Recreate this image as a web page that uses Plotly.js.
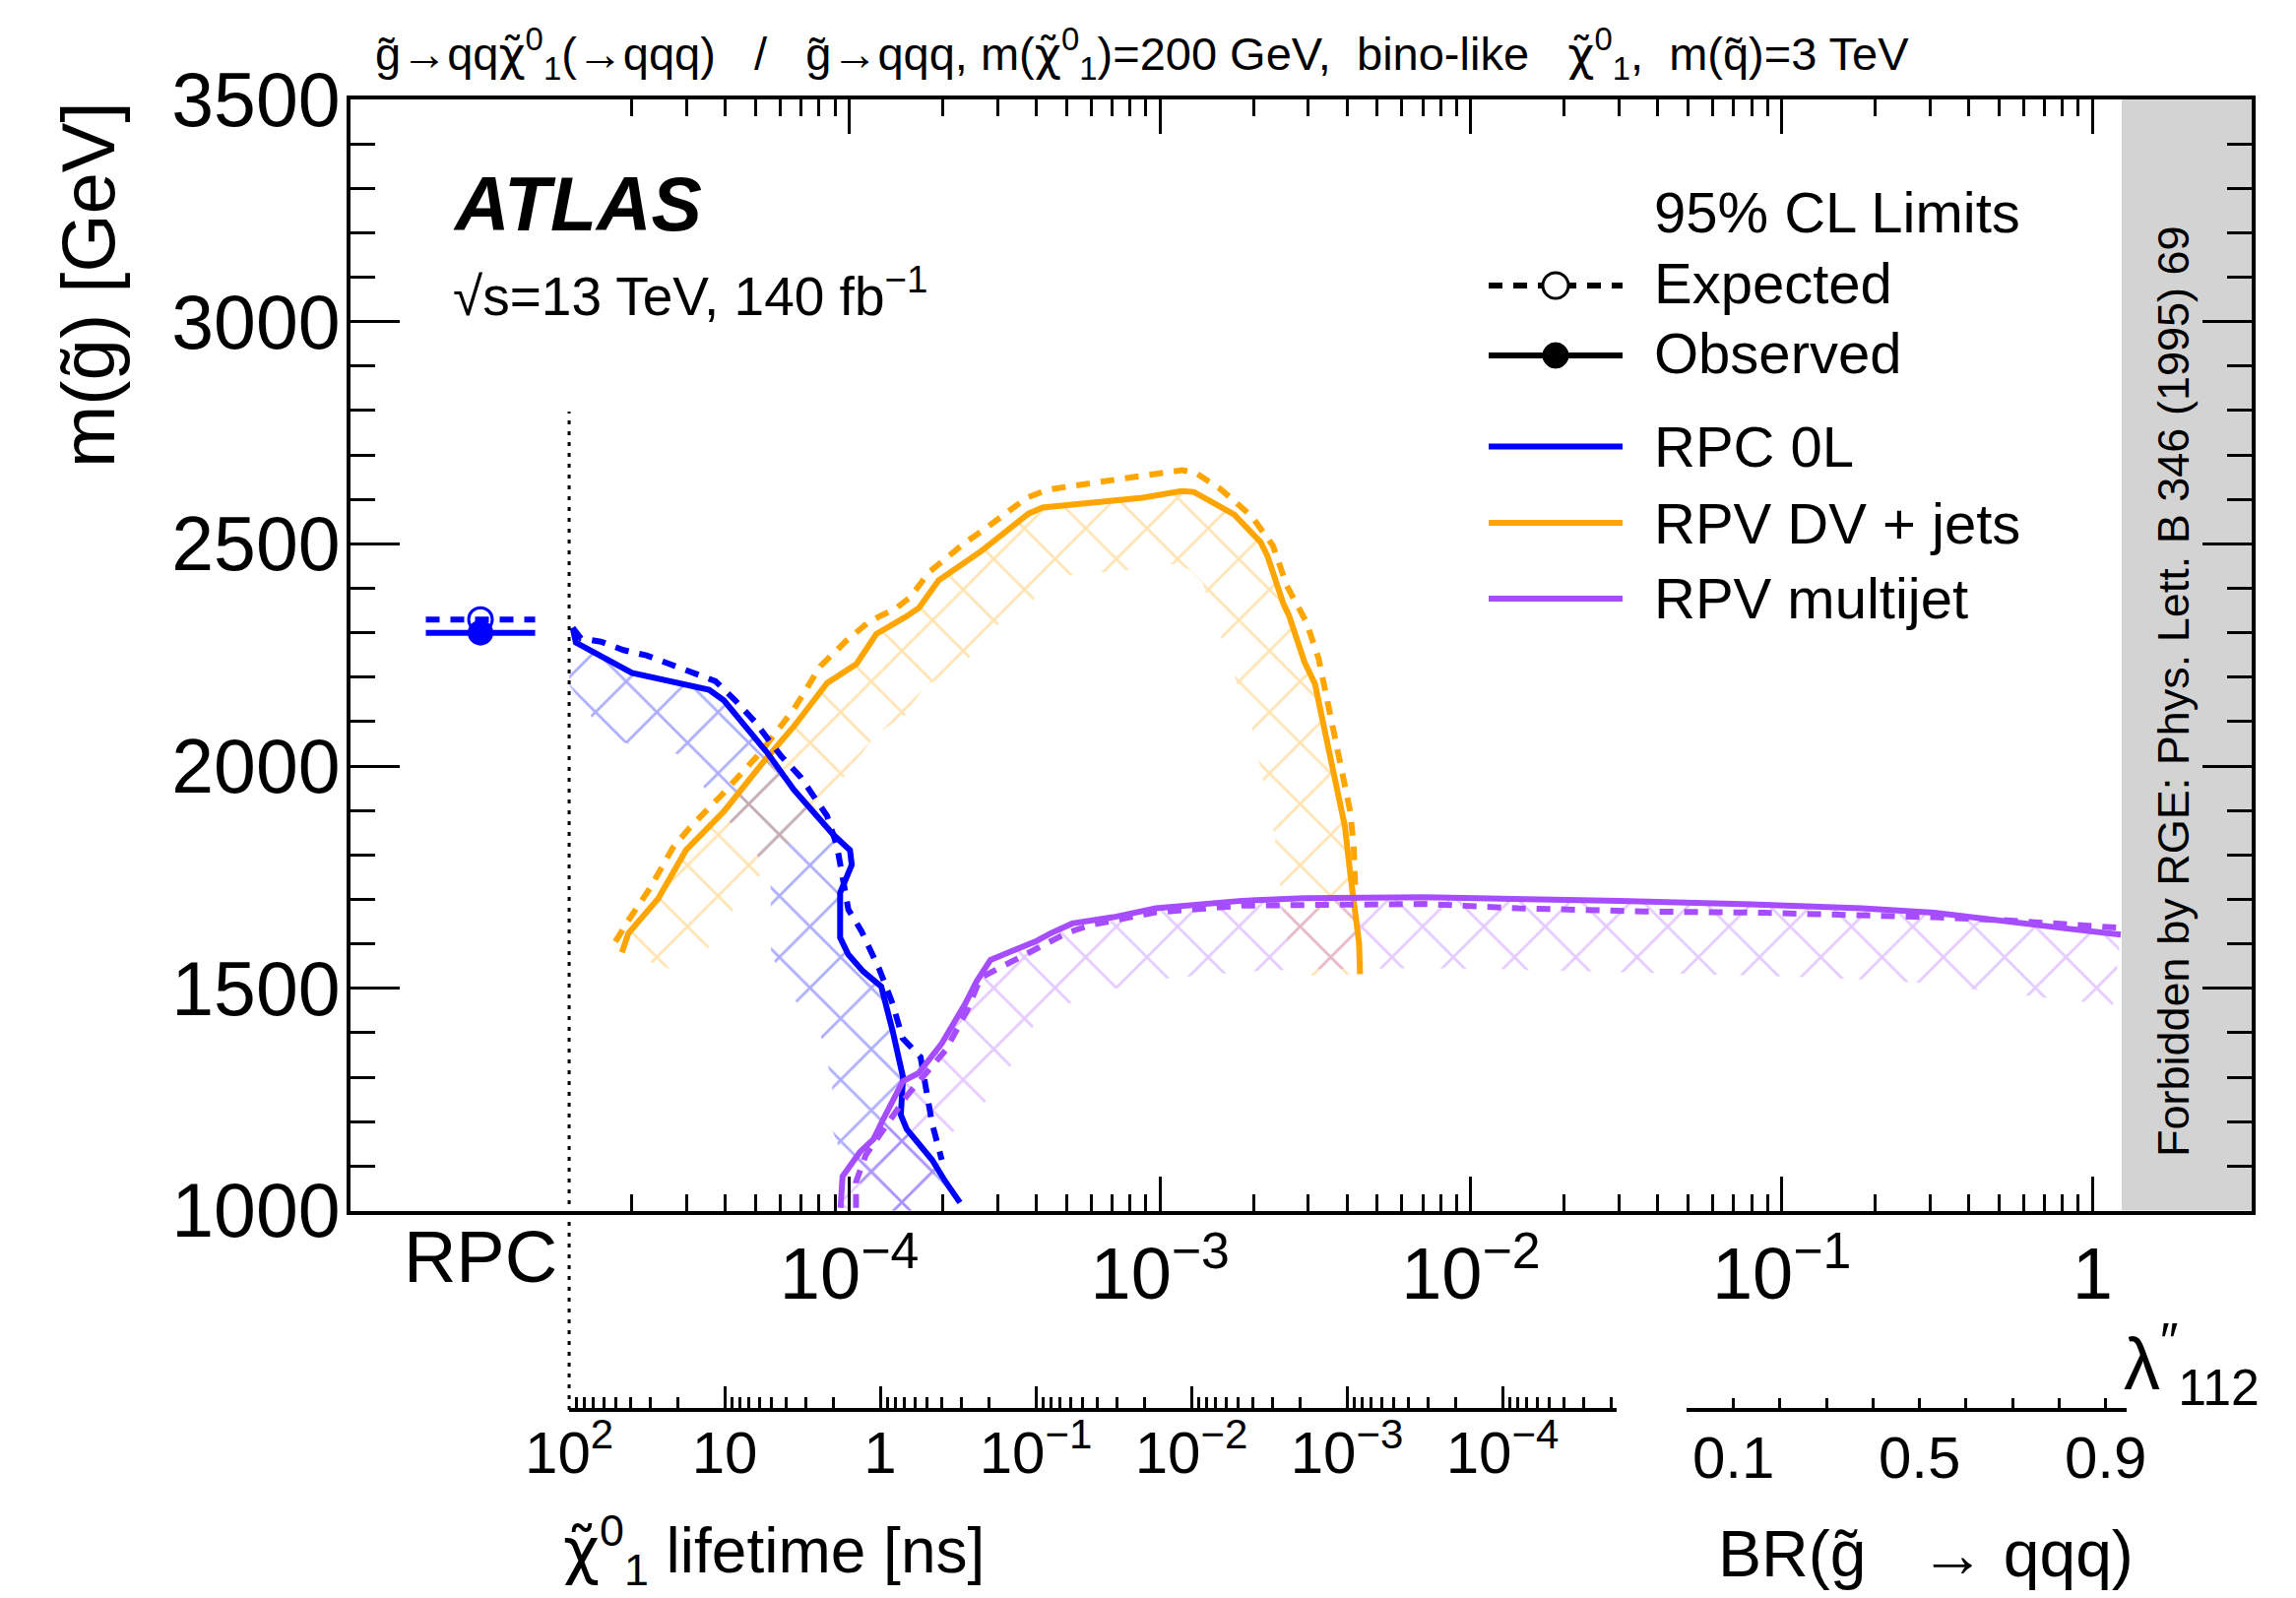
<!DOCTYPE html>
<html><head><meta charset="utf-8">
<script src="https://cdn.plot.ly/plotly-3.0.1.min.js"></script>
<style>body{margin:0;background:#fff}</style>
</head><body><div id="chart" style="width:2332px;height:1623px"></div>
<script>
// ---------------- data ----------------
// RPC 0L (prompt) limit, in GeV
const rpcMassObs = 2300;
const rpcMassExp = 2330;
const rpcBin = [-0.5, 0, 0.5];          // RPC category bin (centre = 0)
const rpcCategory = ['RPC'];

// RPC 0L reinterpretation vs lambda''112
const rpcObsLam = [1.29e-5,1.32e-5,2.00e-5,3.54e-5,3.95e-5,5.48e-5,6.65e-5,8.91e-5,1.006e-4,1.019e-4,9.35e-5,9.35e-5,9.94e-5,1.109e-4,1.268e-4,1.315e-4,1.38e-4,1.49e-4,1.466e-4,1.532e-4,1.848e-4,2.036e-4,2.272e-4];
const rpcObsMass = [2311,2278,2210,2172,2148,2028,1946,1845,1811,1778,1715,1614,1576,1538,1504,1465,1404,1300,1215,1183,1114,1066,1018];
const rpcExpLam = [1.29e-5,1.372e-5,1.589e-5,1.880e-5,2.228e-5,2.706e-5,3.210e-5,3.714e-5,4.297e-5,4.972e-5,5.48e-5,6.035e-5,6.985e-5,8.486e-5,9.13e-5,9.47e-5,9.94e-5,1.095e-4,1.252e-4,1.380e-4,1.485e-4,1.697e-4,1.760e-4,1.848e-4,1.985e-4];
const rpcExpMass = [2311,2287,2280,2261,2249,2227,2208,2191,2148,2100,2061,2023,1975,1888,1821,1754,1677,1629,1542,1465,1388,1345,1283,1196,1114];

// RPV DV + jets
const dvObsLam = [1.857e-5,1.949e-5,2.425e-5,2.984e-5,3.95e-5,5.35e-5,6.65e-5,8.49e-5,1.056e-4,1.222e-4,1.521e-4,1.676e-4,1.939e-4,2.661e-4,3.775e-4,4.19e-4,8.80e-4,1.172e-3,1.284e-3,1.389e-3,1.733e-3,2.107e-3,2.219e-3,2.496e-3,2.596e-3,2.917e-3,3.155e-3,3.411e-3,3.685e-3,3.786e-3,3.935e-3,4.093e-3,4.202e-3,4.37e-3,4.40e-3];
const dvObsMass = [1581,1624,1701,1811,1898,2013,2090,2187,2230,2297,2336,2356,2418,2484,2568,2582,2604,2619,2617,2603,2566,2504,2472,2365,2340,2234,2184,2070,1963,1922,1864,1758,1684,1602,1532];
const dvExpLam = [1.769e-5,1.949e-5,2.284e-5,2.706e-5,3.057e-5,3.898e-5,5.219e-5,6.65e-5,8.08e-5,9.82e-5,1.164e-4,1.414e-4,1.578e-4,1.798e-4,2.332e-4,2.726e-4,3.729e-4,4.357e-4,5.653e-4,8.568e-4,1.177e-3,1.301e-3,1.561e-3,1.973e-3,2.308e-3,2.558e-3,2.956e-3,3.238e-3,3.411e-3,3.594e-3,3.886e-3,4.093e-3,4.202e-3,4.257e-3];
const dvExpMass = [1605,1653,1725,1816,1860,1936,2033,2129,2225,2283,2326,2355,2381,2435,2500,2533,2604,2622,2634,2654,2666,2660,2624,2562,2496,2406,2324,2242,2168,2086,1979,1897,1815,1709];

// RPV multijet
const mjObsLam = [9.38e-5,9.52e-5,1.083e-4,1.198e-4,1.288e-4,1.488e-4,1.670e-4,1.985e-4,2.361e-4,2.572e-4,2.848e-4,3.966e-4,4.451e-4,5.218e-4,7.063e-4,9.69e-4,1.830e-3,2.895e-3,7.094e-3,1.235e-2,3.023e-2,8.86e-2,0.1811,0.3102,0.5309,0.8159,1.233];
const mjObsMass = [1006,1077,1132,1161,1206,1291,1309,1376,1465,1516,1564,1605,1624,1646,1660,1680,1697,1703,1705,1703,1697,1688,1680,1670,1649,1635,1621];
const mjExpLam = [1.052e-4,1.052e-4,1.131e-4,1.252e-4,1.532e-4,2.044e-4,2.395e-4,2.648e-4,2.890e-4,3.966e-4,4.994e-4,5.94e-4,9.69e-4,1.830e-3,7.094e-3,1.424e-2,3.613e-2,8.86e-2,0.1811,0.3102,0.5309,0.941,1.233];
const mjExpMass = [1006,1065,1125,1169,1258,1361,1450,1524,1538,1587,1624,1642,1671,1686,1690,1680,1673,1670,1666,1660,1653,1642,1636];

// boundaries
const lamRpcEdge = 1.256e-5;     // start of the lambda'' scale (dotted line)
const lamRgeLimit = 1.242;       // RGE forbidden region starts

// axis tick labels
const lamMajorVals = [1e-4,1e-3,1e-2,1e-1,1];
const lamMajorText = ['10<sup>\u22124</sup>','10<sup>\u22123</sup>','10<sup>\u22122</sup>','10<sup>\u22121</sup>','1'];
const tauMajorVals = [100,10,1,0.1,0.01,1e-3,1e-4];
const tauMajorText = ['10<sup>2</sup>','10','1','10<sup>\u22121</sup>','10<sup>\u22122</sup>','10<sup>\u22123</sup>','10<sup>\u22124</sup>'];
const brLabelVals = [0.1,0.5,0.9];
const brLabelText = ['0.1','0.5','0.9'];
const brOtherTicks = [0.2,0.3,0.4,0.6,0.7,0.8];

// legend
const legendHeader = '95% CL Limits';
const legendStyles = ['Expected','Observed'];
const legendAnalyses = ['RPC 0L','RPV DV + jets','RPV multijet'];

// ---------------- styling / geometry ----------------
const FONT = 'Liberation Sans, Arial, Helvetica, sans-serif';
const C_BLUE = '#0000ff', C_ORANGE = '#ffa500', C_PURPLE = '#a64dff';
const FIG_W = 2332, FIG_H = 1623;
const M = {l:356, r:45, t:101, b:191};
const PW = FIG_W - M.l - M.r, PH = FIG_H - M.t - M.b;
const LAM_RANGE = [-5.6044, 0.5122];
const Y_DOMAIN = [0.15214, 1];
const M_RANGE = [1000, 3500];
const yBotPx = M.t + PH*(1-Y_DOMAIN[0]), yTopPx = M.t + PH*(1-Y_DOMAIN[1]);

const xToPx = l => M.l + (Math.log10(l)-LAM_RANGE[0])/(LAM_RANGE[1]-LAM_RANGE[0])*PW;
const pxToX = p => Math.pow(10, LAM_RANGE[0] + (p-M.l)/PW*(LAM_RANGE[1]-LAM_RANGE[0]));
const yToPx = m => yBotPx - (m-M_RANGE[0])/(M_RANGE[1]-M_RANGE[0])*(yBotPx-yTopPx);
const pxToY = p => M_RANGE[0] + (yBotPx-p)/(yBotPx-yTopPx)*(M_RANGE[1]-M_RANGE[0]);
const paperX = p => (p-M.l)/PW;
const paperY = p => (M.t+PH-p)/PH;

const edgePx = xToPx(lamRpcEdge), rgePx = xToPx(lamRgeLimit);

// hatched band on the excluded side of a contour
function band(lam, mass, w){
  const P = lam.map((l,i)=>[xToPx(l), yToPx(mass[i])]);
  const n = P.length, segN = [];
  for(let i=0;i<n-1;i++){
    const dx=P[i+1][0]-P[i][0], dy=P[i+1][1]-P[i][1], L=Math.hypot(dx,dy)||1;
    segN.push([-dy/L, dx/L]);
  }
  const off = P.map((p,i)=>{
    const a=segN[Math.max(0,i-1)], b=segN[Math.min(n-2,i)];
    let nx=a[0]+b[0], ny=a[1]+b[1]; const L=Math.hypot(nx,ny)||1; nx/=L; ny/=L;
    return [Math.min(rgePx, Math.max(edgePx, p[0]+nx*w)), p[1]+ny*w];
  });
  const poly = P.concat(off.slice().reverse()); poly.push(P[0]);
  return {x: poly.map(p=>pxToX(p[0])), y: poly.map(p=>pxToY(p[1]))};
}
function hatchTrace(lam, mass, color, op){
  const b = band(lam, mass, 72);
  return {type:'scatter', mode:'lines', x:b.x, y:b.y, fill:'toself', fillcolor:'rgba(0,0,0,0)',
    fillpattern:{shape:'x', size:44, solidity:0.12, fgcolor:color, fgopacity:op, bgcolor:'rgba(0,0,0,0)'},
    line:{width:0}, hoverinfo:'skip', showlegend:false};
}
function curve(lam, mass, color, dashed){
  return {type:'scatter', mode:'lines', x:lam, y:mass, line:{color:color, width:6, dash: dashed ? '14px,11px' : 'solid'},
    hoverinfo:'skip', showlegend:false};
}

const traces = [
  hatchTrace(rpcObsLam, rpcObsMass, C_BLUE, 0.32),
  hatchTrace(dvObsLam, dvObsMass, C_ORANGE, 0.3),
  hatchTrace(mjObsLam, mjObsMass, C_PURPLE, 0.3),
  curve(dvExpLam, dvExpMass, C_ORANGE, true),
  curve(dvObsLam, dvObsMass, C_ORANGE, false),
  curve(rpcExpLam, rpcExpMass, C_BLUE, true),
  curve(rpcObsLam, rpcObsMass, C_BLUE, false),
  curve(mjExpLam, mjExpMass, C_PURPLE, true),
  curve(mjObsLam, mjObsMass, C_PURPLE, false),
  // RPC prompt points
  {type:'scatter', mode:'lines', xaxis:'x2', yaxis:'y', x:[rpcBin[0], rpcBin[2]], y:[rpcMassExp, rpcMassExp],
    line:{color:C_BLUE, width:6, dash:'14px,11px'}, hoverinfo:'skip', showlegend:false},
  {type:'scatter', mode:'markers', xaxis:'x2', yaxis:'y', x:[rpcBin[1]], y:[rpcMassExp],
    marker:{symbol:'circle-open', size:24, color:C_BLUE, line:{width:3, color:C_BLUE}}, hoverinfo:'skip', showlegend:false},
  {type:'scatter', mode:'lines', xaxis:'x2', yaxis:'y', x:[rpcBin[0], rpcBin[2]], y:[rpcMassObs, rpcMassObs],
    line:{color:C_BLUE, width:6}, hoverinfo:'skip', showlegend:false},
  {type:'scatter', mode:'markers', xaxis:'x2', yaxis:'y', x:[rpcBin[1]], y:[rpcMassObs],
    marker:{symbol:'circle', size:26, color:C_BLUE}, hoverinfo:'skip', showlegend:false},
  // carriers for the secondary scales
  {type:'scatter', x:[], y:[], xaxis:'x3', yaxis:'y', hoverinfo:'skip', showlegend:false},
  {type:'scatter', x:[], y:[], xaxis:'x4', yaxis:'y', hoverinfo:'skip', showlegend:false}
];

// minor ticks
const lamMinor = [];
for(let e=-5;e<=-1;e++) for(let k=2;k<=9;k++) lamMinor.push(k*Math.pow(10,e));
const tauMinor = [];
for(let e=-5;e<=1;e++) for(let k=2;k<=9;k++){ const v=k*Math.pow(10,e); if(v>1.85e-5) tauMinor.push(v); }

const TAU_RANGE = [2, -4.734];
const tauEndPx = 1642;
const brDomainPx = [1713.4, 2160.1];

const axBase = {showgrid:false, zeroline:false, linecolor:'black', linewidth:4, tickcolor:'black', tickwidth:3, ticks:'inside'};

const layout = {
  width:FIG_W, height:FIG_H, margin:{l:M.l, r:M.r, t:M.t, b:M.b, pad:0},
  paper_bgcolor:'white', plot_bgcolor:'rgba(0,0,0,0)', showlegend:false,
  font:{family:FONT, color:'black', size:58},
  xaxis: Object.assign({}, axBase, {type:'log', range:LAM_RANGE, domain:[0,1], anchor:'y', showline:true, mirror:'ticks',
    ticklen:35, tickvals:lamMajorVals, ticktext:lamMajorText, tickfont:{size:74, family:FONT}, ticklabelstandoff:-3, tickangle:0,
    minor:{tickvals:lamMinor, ticks:'inside', ticklen:17, tickwidth:3, tickcolor:'black'}}),
  xaxis2: {domain:[0, paperX(edgePx)], range:[-1.189, 0.811], anchor:'y', showline:false, showgrid:false, zeroline:false,
    ticks:'', tickvals:[rpcBin[1]], ticktext:rpcCategory, tickfont:{size:74, family:FONT}, ticklabelstandoff:-3, tickangle:0},
  xaxis3: Object.assign({}, axBase, {type:'log', range:TAU_RANGE, domain:[paperX(edgePx), paperX(tauEndPx)], anchor:'free', position:0,
    showline:true, ticklen:22, tickvals:tauMajorVals, ticktext:tauMajorText, tickfont:{size:60, family:FONT}, ticklabelstandoff:-10, tickangle:0,
    minor:{tickvals:tauMinor, ticks:'inside', ticklen:11, tickwidth:3, tickcolor:'black'}}),
  xaxis4: Object.assign({}, axBase, {range:[0, 0.9455], domain:[paperX(brDomainPx[0]), paperX(brDomainPx[1])], anchor:'free', position:0,
    showline:true, ticklen:10, tickvals:brLabelVals, ticktext:brLabelText, tickfont:{size:60, family:FONT}, ticklabelstandoff:-5, tickangle:0,
    minor:{tickvals:brOtherTicks, ticks:'inside', ticklen:10, tickwidth:3, tickcolor:'black'}}),
  yaxis: Object.assign({}, axBase, {domain:Y_DOMAIN, range:M_RANGE, anchor:'x', showline:true, mirror:'ticks',
    ticklen:50, tick0:1000, dtick:500, tickfont:{size:77, family:FONT}, ticklabelstandoff:-9,
    minor:{dtick:100, ticks:'inside', ticklen:25, tickwidth:3, tickcolor:'black'}}),
  shapes: [],
  annotations: []
};

// forbidden region + RPC separator
layout.shapes.push({type:'rect', xref:'paper', yref:'paper', x0:paperX(rgePx), x1:1, y0:Y_DOMAIN[0], y1:1,
  fillcolor:'#d3d3d3', line:{width:0}, layer:'below'});
layout.shapes.push({type:'line', xref:'paper', yref:'paper', x0:paperX(edgePx), x1:paperX(edgePx), y0:0, y1:paperY(418),
  line:{color:'black', width:3, dash:'4px,7px'}});

// custom legend (pixel positions)
const legX0 = 1512, legX1 = 1648, legMx = 1580, legTx = 1678;
const legLineY = [290, 361, 453.6, 531, 608];
const legTextY = [287, 358, 453, 531, 607];
const legColors = ['black','black',C_BLUE,C_ORANGE,C_PURPLE];
legLineY.forEach((py,i)=>{
  layout.shapes.push({type:'line', xref:'paper', yref:'paper', x0:paperX(legX0), x1:paperX(legX1), y0:paperY(py), y1:paperY(py),
    line:{color:legColors[i], width:6, dash: i===0 ? '14px,11px' : 'solid'}});
});
layout.shapes.push({type:'circle', xref:'paper', yref:'paper', xsizemode:'pixel', ysizemode:'pixel',
  xanchor:paperX(legMx), yanchor:paperY(legLineY[0]), x0:-13, x1:13, y0:-13, y1:13, fillcolor:'white', line:{color:'black', width:3}});
layout.shapes.push({type:'circle', xref:'paper', yref:'paper', xsizemode:'pixel', ysizemode:'pixel',
  xanchor:paperX(legMx), yanchor:paperY(legLineY[1]), x0:-13, x1:13, y0:-13, y1:13, fillcolor:'black', line:{color:'black', width:1}});

function ann(text, px, py, opts){
  return Object.assign({text:text, x:paperX(px), y:paperY(py), xref:'paper', yref:'paper', showarrow:false,
    xanchor:'left', yanchor:'middle', font:{family:FONT, size:58, color:'black'}}, opts||{});
}
const NB = '\u00a0';
const chi = '<span style="font-family:DejaVu Sans">\u03c7\u0303</span><sup>0</sup><sub>1</sub>';
const gl = 'g\u0303', sq = 'q\u0303';
layout.annotations.push(ann(gl+'\u2192qq'+chi+'(\u2192qqq)'+NB+NB+NB+'/'+NB+NB+NB+gl+'\u2192qqq, m('+chi+')=200 GeV,'+NB+NB+'bino-like'+NB+NB+NB+chi+','+NB+NB+'m('+sq+')=3 TeV',
  379, 54, {font:{family:FONT, size:47, color:'black'}}));
layout.annotations.push(ann('ATLAS', 458, 207, {font:{family:FONT, size:77, color:'black', weight:'bold', style:'italic'}}));
layout.annotations.push(ann('\u221As=13 TeV, 140 fb<sup>\u22121</sup>', 458, 297, {font:{family:FONT, size:55, color:'black'}}));
layout.annotations.push(ann(legendHeader, legTx, 215));
legendStyles.forEach((t,i)=>layout.annotations.push(ann(t, legTx, legTextY[i])));
legendAnalyses.forEach((t,i)=>layout.annotations.push(ann(t, legTx, legTextY[i+2])));
layout.annotations.push(ann('Forbidden by RGE: Phys. Lett. B 346 (1995) 69', 2207, 702,
  {xanchor:'center', textangle:-90, font:{family:FONT, size:45, color:'black'}}));
layout.annotations.push(ann('m('+gl+') [GeV]', 89, 101, {xanchor:'center', yanchor:'top', textangle:-90, font:{family:FONT, size:76, color:'black'}}));
layout.annotations.push(ann(chi+' lifetime [ns]', 570, 1574, {font:{family:FONT, size:64, color:'black'}}));
layout.annotations.push(ann('BR('+gl+NB+NB+NB+'\u2192 qqq)', 1743, 1578, {font:{family:FONT, size:66, color:'black'}}));
layout.annotations.push(ann('\u03bb<sup>\u2033</sup><sub>112</sub>', 2155, 1385, {font:{family:FONT, size:74, color:'black'}}));

Plotly.newPlot('chart', traces, layout, {staticPlot:true});
</script></body></html>
